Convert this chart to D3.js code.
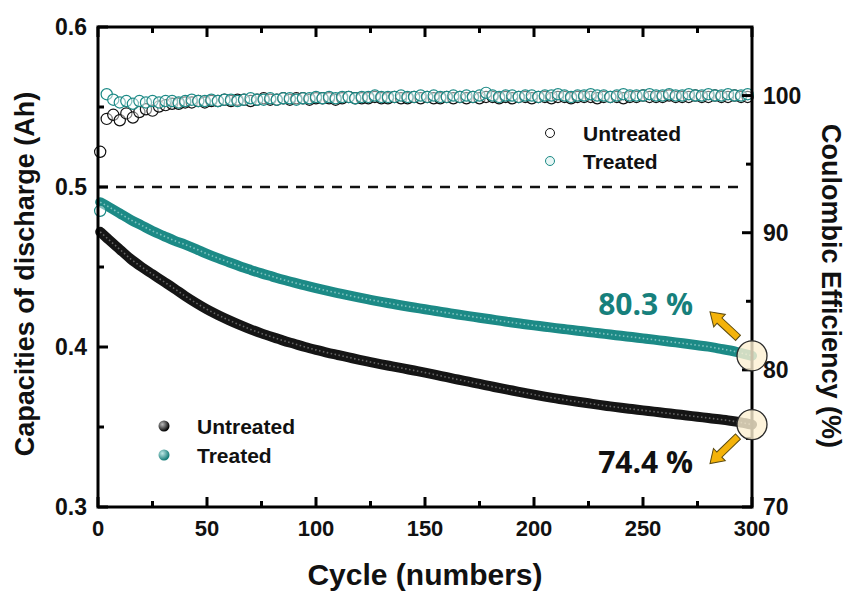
<!DOCTYPE html>
<html>
<head>
<meta charset="utf-8">
<script src="https://cdn.jsdelivr.net/npm/d3@7"></script>
<style>
  html, body { margin: 0; padding: 0; background: #fff; }
  svg { display: block; }
  text { font-family: "Liberation Sans", Arial, sans-serif; font-weight: bold; fill: #111; }
</style>
</head>
<body>
<svg id="chart" width="847" height="593"></svg>
<script>
// ---------------- DATA ----------------
const seriesNames = ["Untreated", "Treated"];

// discharge capacity (Ah), at cycles 1,5,10,...,300
const capCycles = [1].concat(d3.range(5, 301, 5));
const capUntreated = [0.472, 0.467, 0.461, 0.455, 0.450, 0.4455, 0.4410, 0.4365, 0.4318, 0.4275,
  0.4235, 0.4200, 0.4168, 0.4138, 0.4110, 0.4085, 0.4062, 0.4040, 0.4020, 0.4000,
  0.3982, 0.3965, 0.3950, 0.3935, 0.3920, 0.3906, 0.3892, 0.3879, 0.3866, 0.3853,
  0.3840, 0.3826, 0.3811, 0.3797, 0.3783, 0.3769, 0.3755, 0.3741, 0.3728, 0.3715,
  0.3702, 0.3690, 0.3679, 0.3668, 0.3658, 0.3648, 0.3638, 0.3629, 0.3620, 0.3612,
  0.3604, 0.3596, 0.3588, 0.3580, 0.3572, 0.3564, 0.3556, 0.3548, 0.3539, 0.3528, 0.3515];
const capTreated = [0.4905, 0.4875, 0.4835, 0.4795, 0.4760, 0.4725, 0.4695, 0.4665, 0.4640, 0.4612,
  0.4582, 0.4555, 0.4530, 0.4505, 0.4482, 0.4460, 0.4440, 0.4420, 0.4402, 0.4385,
  0.4368, 0.4352, 0.4337, 0.4322, 0.4308, 0.4295, 0.4282, 0.4270, 0.4258, 0.4247,
  0.4236, 0.4225, 0.4214, 0.4203, 0.4193, 0.4183, 0.4173, 0.4163, 0.4153, 0.4144,
  0.4135, 0.4127, 0.4118, 0.4110, 0.4102, 0.4094, 0.4086, 0.4078, 0.4070, 0.4062,
  0.4054, 0.4046, 0.4037, 0.4029, 0.4020, 0.4011, 0.4002, 0.3990, 0.3978, 0.3962, 0.3945];

// coulombic efficiency (%), at cycles 1,4,7,...,298
const ceCycles = d3.range(1, 300, 3);
const ceUntreated = [95.9, 98.3, 98.6, 98.2, 98.7, 98.4, 98.8, 99.0, 98.9, 99.2,
  99.3, 99.4, 99.4, 99.5, 99.5, 99.6, 99.5, 99.6, 99.6, 99.7,
  99.6, 99.7, 99.7, 99.6, 99.7, 99.8, 99.7, 99.7, 99.8, 99.7,
  99.8, 99.8, 99.7, 99.8, 99.8, 99.8, 99.7, 99.8, 99.9, 99.8,
  99.8, 99.8, 99.9, 99.8, 99.8, 99.9, 99.8, 99.8, 99.9, 99.8,
  99.9, 99.8, 99.8, 99.9, 99.8, 99.9, 99.8, 99.9, 99.8, 99.9,
  99.9, 99.8, 99.9, 99.8, 99.9, 99.9, 99.8, 99.9, 99.9, 99.8,
  99.9, 99.9, 99.8, 99.9, 99.9, 99.9, 99.8, 99.9, 99.9, 99.9,
  99.8, 99.9, 99.9, 100.0, 99.9, 99.9, 99.9, 100.0, 99.9, 99.9,
  99.9, 100.0, 99.9, 99.9, 100.0, 99.9, 99.9, 100.0, 99.9, 99.9];
const ceTreated = [91.6, 100.1, 99.7, 99.5, 99.6, 99.4, 99.6, 99.5, 99.6, 99.5,
  99.6, 99.6, 99.5, 99.6, 99.7, 99.6, 99.6, 99.7, 99.6, 99.7,
  99.7, 99.6, 99.7, 99.8, 99.7, 99.7, 99.8, 99.7, 99.8, 99.8,
  99.7, 99.8, 99.8, 99.9, 99.8, 99.9, 99.8, 99.9, 99.9, 99.8,
  99.9, 99.9, 100.0, 99.9, 99.9, 99.9, 100.0, 99.9, 99.9, 100.0,
  99.9, 100.0, 99.9, 99.9, 100.0, 99.9, 100.0, 99.9, 100.0, 100.2,
  100.0, 99.9, 100.0, 100.0, 99.9, 100.0, 100.0, 99.9, 100.0, 100.0,
  100.1, 100.0, 99.9, 100.0, 100.0, 100.1, 100.0, 100.0, 99.9, 100.0,
  100.1, 100.0, 100.0, 100.0, 100.1, 100.0, 100.0, 100.1, 100.0, 100.0,
  100.1, 100.0, 100.0, 100.1, 100.0, 100.0, 100.1, 100.0, 100.0, 100.1];

const xTicksMajor = [0, 50, 100, 150, 200, 250, 300];
const xTicksMinor = [25, 75, 125, 175, 225, 275];
const yLTicksMajor = [0.3, 0.4, 0.5, 0.6];
const yLTicksMinor = [0.35, 0.45, 0.55];
const yRTicksMajor = [70, 80, 90, 100];
const yRTicksMinor = [75, 85, 95];
const retention = ["74.4 %", "80.3 %"];

// ---------------- STYLE ----------------
const colBlack = "#151515", colTeal = "#1c8a86";
const svg = d3.select("#chart");
const L = 98, R = 752, T = 27, B = 507;
const x = d3.scaleLinear().domain([0, 300]).range([L, R]);
const yL = d3.scaleLinear().domain([0.3, 0.6]).range([B, T]);
const yR = d3.scaleLinear().domain([70, 105]).range([B, T]);

const defs = svg.append("defs");
function ballGrad(id, c0, c1) {
  const g = defs.append("radialGradient").attr("id", id).attr("cx", "35%").attr("cy", "35%").attr("r", "65%");
  g.append("stop").attr("offset", "0%").attr("stop-color", c0);
  g.append("stop").attr("offset", "100%").attr("stop-color", c1);
}
ballGrad("gBlack", "#bbbbbb", "#000000");
ballGrad("gTeal", "#bfe8e6", "#137a76");

// dashed reference line at 0.5
svg.append("line").attr("x1", x(0)).attr("x2", x(297)).attr("y1", yL(0.5)).attr("y2", yL(0.5))
  .attr("stroke", "#111").attr("stroke-width", 2.5).attr("stroke-dasharray", "10,8");

// capacity bands
const capLine = d3.line().x((d, i) => x(capCycles[i])).y(d => yL(d)).curve(d3.curveMonotoneX);
[[capUntreated, colBlack, "#8a8a8a"], [capTreated, colTeal, "#a9dcd9"]].forEach(([arr, c, hi]) => {
  svg.append("path").attr("d", capLine(arr)).attr("fill", "none").attr("stroke", c)
    .attr("stroke-width", 10).attr("stroke-linecap", "round");
  svg.append("path").attr("d", capLine(arr)).attr("fill", "none").attr("stroke", hi)
    .attr("stroke-width", 1.6).attr("stroke-dasharray", "1.5,2.5").attr("opacity", 0.7);
});

// coulombic efficiency open circles
[[ceUntreated, "#111"], [ceTreated, colTeal]].forEach(([arr, c]) => {
  svg.append("g").selectAll("circle").data(arr).join("circle")
    .attr("cx", (d, i) => x(ceCycles[i])).attr("cy", d => yR(d)).attr("r", 5.6)
    .attr("fill", "#fff").attr("fill-opacity", 0.45).attr("stroke", c).attr("stroke-width", 1.2);
});

// ---------------- AXES / FRAME ----------------
const ax = svg.append("g").attr("stroke", "#000").attr("stroke-width", 3).attr("fill", "none");
ax.append("rect").attr("x", L).attr("y", T).attr("width", R - L).attr("height", B - T);
xTicksMajor.forEach(v => {
  ax.append("line").attr("x1", x(v)).attr("x2", x(v)).attr("y1", B).attr("y2", B - 10);
  ax.append("line").attr("x1", x(v)).attr("x2", x(v)).attr("y1", T).attr("y2", T + 10);
});
xTicksMinor.forEach(v => {
  ax.append("line").attr("x1", x(v)).attr("x2", x(v)).attr("y1", B).attr("y2", B - 6);
  ax.append("line").attr("x1", x(v)).attr("x2", x(v)).attr("y1", T).attr("y2", T + 6);
});
yLTicksMajor.forEach(v => ax.append("line").attr("x1", L).attr("x2", L + 10).attr("y1", yL(v)).attr("y2", yL(v)));
yLTicksMinor.forEach(v => ax.append("line").attr("x1", L).attr("x2", L + 6).attr("y1", yL(v)).attr("y2", yL(v)));
yRTicksMajor.forEach(v => ax.append("line").attr("x1", R).attr("x2", R - 10).attr("y1", yR(v)).attr("y2", yR(v)));
yRTicksMinor.forEach(v => ax.append("line").attr("x1", R).attr("x2", R - 6).attr("y1", yR(v)).attr("y2", yR(v)));

// tick labels
svg.append("g").selectAll("text").data(xTicksMajor).join("text")
  .attr("x", d => x(d)).attr("y", 536).attr("text-anchor", "middle").style("font-size", "22px").text(d => d);
svg.append("g").selectAll("text").data(yLTicksMajor).join("text")
  .attr("x", 87).attr("y", d => yL(d)).attr("dy", "0.36em").attr("text-anchor", "end")
  .style("font-size", "23px").text(d => d3.format(".1f")(d));
svg.append("g").selectAll("text").data(yRTicksMajor).join("text")
  .attr("x", 763).attr("y", d => yR(d)).attr("dy", "0.36em").attr("text-anchor", "start")
  .style("font-size", "23px").text(d => d);

// axis titles
svg.append("text").attr("x", (L + R) / 2).attr("y", 585).attr("text-anchor", "middle")
  .style("font-size", "30px").text("Cycle (numbers)");
svg.append("text").attr("transform", "translate(34,274) rotate(-90)").attr("text-anchor", "middle")
  .style("font-size", "27px").text("Capacities of discharge (Ah)");
svg.append("text").attr("transform", "translate(822,286) rotate(90)").attr("text-anchor", "middle")
  .style("font-size", "27px").text("Coulombic Efficiency (%)");

// ---------------- LEGENDS ----------------
const legTop = svg.append("g");
[["#111", "#fff"], [colTeal, "#e8f6f5"]].forEach(([s, f], i) => {
  legTop.append("circle").attr("cx", 550).attr("cy", 133 + i * 28).attr("r", 4.5)
    .attr("fill", f).attr("stroke", s).attr("stroke-width", 1);
  legTop.append("text").attr("x", 583).attr("y", 133 + i * 28).attr("dy", "0.36em")
    .style("font-size", "21px").text(seriesNames[i]);
});
const legBot = svg.append("g");
["url(#gBlack)", "url(#gTeal)"].forEach((f, i) => {
  legBot.append("circle").attr("cx", 164).attr("cy", 426 + i * 29).attr("r", 5.5).attr("fill", f);
  legBot.append("text").attr("x", 197).attr("y", 426 + i * 29).attr("dy", "0.36em")
    .style("font-size", "21px").text(seriesNames[i]);
});

// ---------------- ANNOTATIONS ----------------
const endPts = [[x(300), yL(capUntreated[capUntreated.length - 1])], [x(300), yL(capTreated[capTreated.length - 1])]];
endPts.forEach(([cx, cy]) => {
  svg.append("circle").attr("cx", cx).attr("cy", cy).attr("r", 15)
    .attr("fill", "#fdf0d2").attr("fill-opacity", 0.8).attr("stroke", "#2a2a2a").attr("stroke-width", 1.3);
});
function arrow(bx, by, tx, ty) {
  const len = Math.hypot(tx - bx, ty - by), ang = Math.atan2(ty - by, tx - bx) * 180 / Math.PI;
  const h = 13;
  const p = `M0,-3.6 L${len - h},-3.6 L${len - h},-8.5 L${len},0 L${len - h},8.5 L${len - h},3.6 L0,3.6 Z`;
  svg.append("path").attr("d", p).attr("transform", `translate(${bx},${by}) rotate(${ang})`)
    .attr("fill", "#f4b30a").attr("stroke", "#5b4a10").attr("stroke-width", 1);
}
const [uEnd, tEnd] = endPts;
arrow(tEnd[0] - 14, tEnd[1] - 18, tEnd[0] - 42, tEnd[1] - 44);
arrow(uEnd[0] - 14, uEnd[1] + 12, uEnd[0] - 42, uEnd[1] + 39);
svg.append("text").attr("x", tEnd[0] - 59).attr("y", tEnd[1] - 41).attr("text-anchor", "end")
  .style("font-family", "'Open Sans', 'Noto Sans', sans-serif").style("font-size", "30px")
  .style("fill", "#17807c").text(retention[1]);
svg.append("text").attr("x", uEnd[0] - 59).attr("y", uEnd[1] + 48).attr("text-anchor", "end")
  .style("font-family", "'Open Sans', 'Noto Sans', sans-serif").style("font-size", "30px")
  .style("fill", "#111").text(retention[0]);
</script>
</body>
</html>
